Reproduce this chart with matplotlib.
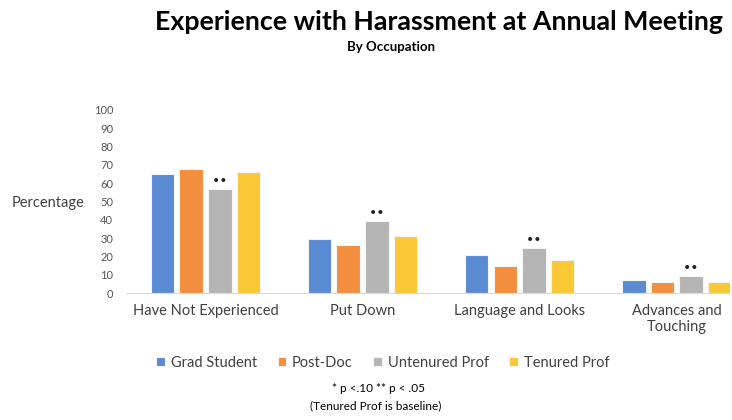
import matplotlib.pyplot as plt
import numpy as np

plt.rcParams['font.family'] = ['Lato', 'DejaVu Sans']

categories = ['Have Not Experienced', 'Put Down', 'Language and Looks', 'Advances and\nTouching']
occupations = ['Grad Student', 'Post-Doc', 'Untenured Prof', 'Tenured Prof']
grad_student = [65, 29.5, 20.5, 7]
post_doc = [68, 26, 14.5, 6]
untenured_prof = [57, 39.5, 24.5, 9.5]
tenured_prof = [66, 31, 18, 6]
signif = ['**', '**', '**', '**']  # markers over Untenured Prof bars
colors = ['#5A8AD2', '#F28E3E', '#B4B4B4', '#F9C834']

series = [grad_student, post_doc, untenured_prof, tenured_prof]

fig = plt.figure(figsize=(7.32, 4.2), dpi=100)
ax = fig.add_axes([127 / 732, 1 - 293 / 420, (730 - 127) / 732, (293 - 110) / 420])

x = np.arange(len(categories))
step = 0.182
width = 0.15
for k, (vals, name, c) in enumerate(zip(series, occupations, colors)):
    pos = x + (k - 1.5) * step
    ax.bar(pos, vals, width, color=c, label=name, edgecolor='#F4F4F4', linewidth=0.8)
    if k == 2:
        for p, v, s in zip(pos, vals, signif):
            ax.text(p, v + 0.6, '\u2022\u2022', ha='center', va='bottom',
                    fontsize=10, color='#222222', family=['DejaVu Sans'])

ax.set_xlim(-0.5, 3.34)
ax.set_ylim(0, 100)
ax.set_yticks(range(0, 101, 10))
ax.set_xticks(x)
ax.set_xticklabels(categories, fontsize=10.5, color='#404040')
ax.tick_params(axis='y', labelsize=8, colors='#555555', length=0, pad=10)
ax.tick_params(axis='x', length=0, pad=8)
for s in ['top', 'right', 'left']:
    ax.spines[s].set_visible(False)
ax.spines['bottom'].set_color('#D9D9D9')

fig.text(12 / 732, 1 - 203 / 420, 'Percentage', fontsize=10.5, color='#404040', va='center', ha='left')

fig.text(439 / 732, 1 - 22 / 420, 'Experience with Harassment at Annual Meeting',
         fontsize=19.3, fontweight='bold', ha='center', va='center', color='black')
fig.text(391 / 732, 1 - 47 / 420, 'By Occupation', fontsize=9.5, fontweight='bold',
         ha='center', va='center', color='black')

fig.legend(loc='center', bbox_to_anchor=(383 / 732, 1 - 363 / 420), ncol=4, frameon=False,
           fontsize=10.5, handlelength=0.6, handleheight=0.6, handletextpad=0.4,
           columnspacing=1.4, labelcolor='#404040')

fig.text(378 / 732, 1 - 388 / 420, '* p <.10 ** p < .05', fontsize=8.5, ha='center', va='center', color='black')
fig.text(376 / 732, 1 - 406 / 420, '(Tenured Prof is baseline)', fontsize=8.5, ha='center', va='center', color='black')

fig.savefig('out.png', dpi=100)
